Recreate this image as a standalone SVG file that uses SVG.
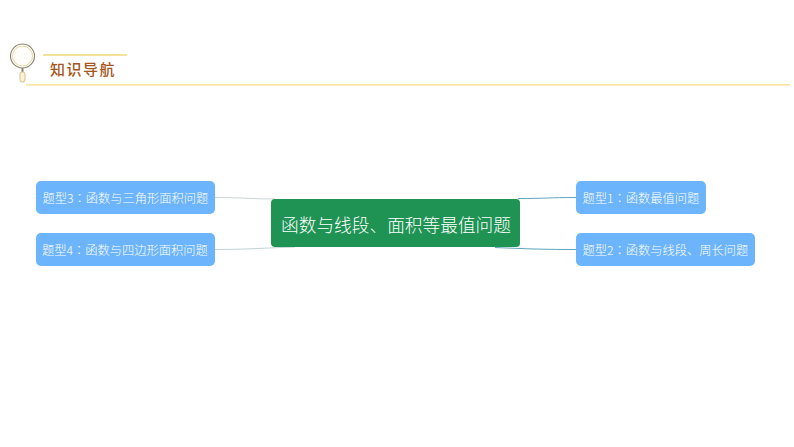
<svg xmlns="http://www.w3.org/2000/svg" width="794" height="447" viewBox="0 0 794 447">
<defs>
<style>
.t{font-family:"Noto Sans CJK SC","Liberation Sans",sans-serif;fill:#fff;font-weight:300;font-size:12.250px}
.k{font-family:"Noto Sans CJK TC","Noto Sans CJK SC",sans-serif}
.n{fill:#6cb4fb}
.c{fill:none;stroke-width:1}
</style>
</defs>
<rect width="794" height="447" fill="#fff"/>
<g id="header">
<circle cx="22.500" cy="56" r="12" fill="#fffefa" stroke="#8f8472" stroke-width="1.100"/>
<circle cx="22.500" cy="56" r="10" fill="none" stroke="#e8d9a4" stroke-width="1"/>
<path d="M22.500 68V72" stroke="#8f8472" stroke-width="2"/>
<rect x="20" y="72" width="5" height="10" rx="2" fill="#fdf3d4" stroke="#cdb47f" stroke-width="0.800"/>
<path d="M43 55H127" stroke="#f2d777" stroke-width="1.300"/>
<path d="M26 84.800H790" stroke="#f5dc86" stroke-width="1.200"/>
<text x="50" y="74.500" style="font-family:'Noto Sans CJK SC',sans-serif;font-size:15px;letter-spacing:1.500px;font-weight:500" fill="#a8571c">知识导航</text>
</g>
<g id="connectors">
<path class="c" stroke="#c9d4d4" d="M215 197.500C245 197.500 250 199 275 199"/>
<path class="c" stroke="#c2d4d4" d="M215 249.500C245 249.500 265 248 295 247"/>
<path class="c" stroke="#5da5bd" d="M518 198.500C545 198.500 550 197.500 576 197.500"/>
<path class="c" stroke="#5da5bd" d="M495 247.500C530 249 545 249.500 576 249.500"/>
</g>
<g id="center">
<rect x="271" y="199" width="249" height="48" rx="4" fill="#1e9353"/>
<text x="396" y="231.500" text-anchor="middle" class="t" style="font-size:17.700px">函数与线段、面积等最值问题</text>
</g>
<g id="n3"><rect class="n" x="36" y="181" width="179" height="33" rx="5"/><text class="t" x="42.500" y="203">题型3<tspan class="k">：</tspan>函数与三角形面积问题</text></g>
<g id="n4"><rect class="n" x="36" y="233" width="179" height="33" rx="5"/><text class="t" x="42" y="255">题型4<tspan class="k">：</tspan>函数与四边形面积问题</text></g>
<g id="n1"><rect class="n" x="576" y="181" width="130" height="33" rx="5"/><text class="t" x="582.500" y="203">题型1<tspan class="k">：</tspan>函数最值问题</text></g>
<g id="n2"><rect class="n" x="576" y="233" width="179" height="33" rx="5"/><text class="t" x="582.500" y="255">题型2<tspan class="k">：</tspan>函数与线段、周长问题</text></g>
</svg>
